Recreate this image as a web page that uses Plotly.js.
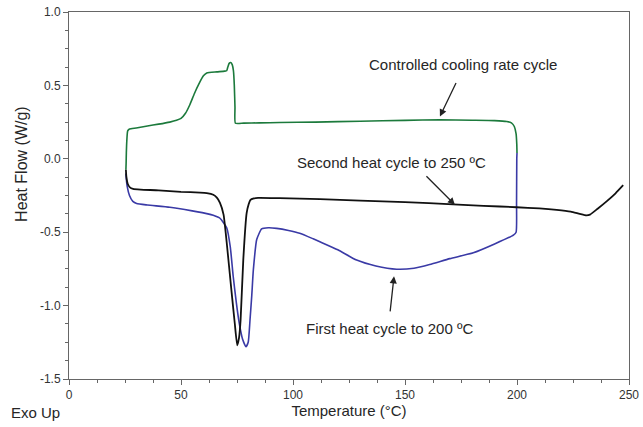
<!DOCTYPE html>
<html>
<head>
<meta charset="utf-8">
<script src="https://cdn.plot.ly/plotly-3.0.1.min.js"></script>
<style>html,body{margin:0;padding:0;background:#fff;}#chart{width:643px;height:427px;}</style>
</head>
<body>
<div id="chart"></div>
<script>
// First heat cycle to 200 °C (blue)
const firstHeatT = [25.4, 25.6, 26.0, 27.0, 28.5, 30.2, 35, 45, 55, 62, 64.4, 67.4, 70.4, 72, 73.3, 74.7, 76, 77.5, 79, 80, 80.8, 81.6, 82.3, 83.8, 86, 89, 92.7, 98, 103, 109, 112, 120, 128.4, 137, 146.3, 154, 161, 170, 180.5, 190, 198.4, 199.6, 199.8, 199.9, 200];
const firstHeatHF = [-0.10, -0.14, -0.19, -0.25, -0.29, -0.305, -0.315, -0.33, -0.355, -0.375, -0.385, -0.405, -0.47, -0.6, -0.80, -0.98, -1.12, -1.23, -1.28, -1.25, -1.10, -0.93, -0.757, -0.55, -0.478, -0.47, -0.474, -0.488, -0.507, -0.545, -0.565, -0.62, -0.69, -0.73, -0.752, -0.745, -0.72, -0.68, -0.64, -0.58, -0.52, -0.50, -0.3, 0.0, 0.04];

// Controlled cooling rate cycle (green), 200 -> 25 °C
const coolingT = [200, 199.9, 199.6, 198.8, 197.5, 195.4, 190, 180, 165.6, 150, 130, 110, 94, 85, 78, 74.3, 74.1, 73.8, 73.4, 72.9, 72.2, 71.5, 70.9, 70.4, 69.5, 66, 61.5, 60, 58, 56, 54, 52, 50, 48, 45, 40, 35, 30, 27, 26.2, 25.8, 25.6, 25.5, 25.4];
const coolingHF = [0.04, 0.10, 0.17, 0.22, 0.245, 0.254, 0.26, 0.263, 0.266, 0.262, 0.256, 0.25, 0.247, 0.245, 0.243, 0.242, 0.35, 0.5, 0.6, 0.64, 0.656, 0.65, 0.625, 0.60, 0.597, 0.592, 0.585, 0.565, 0.51, 0.445, 0.37, 0.31, 0.275, 0.262, 0.25, 0.236, 0.224, 0.21, 0.203, 0.19, 0.12, 0.04, -0.03, -0.075];

// Second heat cycle to 250 °C (black)
const secondHeatT = [25.4, 25.6, 26.2, 27.2, 28.6, 32, 40, 50, 58.5, 61.5, 64.4, 66, 67.4, 69, 70.4, 72.6, 74, 75.1, 75.9, 76.6, 77.8, 79.3, 80.2, 81, 82.5, 84.4, 94, 112, 130, 150, 171.5, 185, 199.8, 210, 217.7, 224, 228, 231, 232.6, 236, 240, 244, 247.4];
const secondHeatHF = [-0.075, -0.12, -0.17, -0.195, -0.205, -0.21, -0.215, -0.225, -0.23, -0.234, -0.245, -0.265, -0.30, -0.38, -0.57, -0.91, -1.12, -1.27, -1.22, -1.10, -0.69, -0.37, -0.31, -0.28, -0.27, -0.266, -0.268, -0.275, -0.285, -0.295, -0.31, -0.32, -0.33, -0.338, -0.348, -0.36, -0.375, -0.385, -0.38, -0.34, -0.29, -0.235, -0.18];

const xTickVals = [0, 50, 100, 150, 200, 250];
const xTickText = ['0', '50', '100', '150', '200', '250'];
const yTickVals = [-1.5, -1.0, -0.5, 0.0, 0.5, 1.0];
const yTickText = ['-1.5', '-1.0', '-0.5', '0.0', '0.5', '1.0'];

const FONT = 'Liberation Sans, Arial, sans-serif';
const TXT = '#262626';

const traces = [
  {x: firstHeatT, y: firstHeatHF, mode: 'lines', line: {color: '#3a3aa6', width: 1.6, shape: 'spline', smoothing: 0.5}, name: 'First heat', hoverinfo: 'x+y'},
  {x: coolingT, y: coolingHF, mode: 'lines', line: {color: '#1c7a3c', width: 1.6, shape: 'spline', smoothing: 0.5}, name: 'Cooling', hoverinfo: 'x+y'},
  {x: secondHeatT, y: secondHeatHF, mode: 'lines', line: {color: '#111111', width: 1.8, shape: 'spline', smoothing: 0.5}, name: 'Second heat', hoverinfo: 'x+y'}
];

function arrow(hx, hy, tx, ty) {
  return {x: hx, y: hy, ax: tx, ay: ty, xref: 'x', yref: 'y', axref: 'x', ayref: 'y',
    text: '', showarrow: true, arrowhead: 2, arrowsize: 1.1, arrowwidth: 1.3, arrowcolor: '#222'};
}
function label(x, y, t) {
  return {x: x, y: y, xref: 'x', yref: 'y', text: t, showarrow: false,
    font: {family: FONT, size: 15, color: TXT}, xanchor: 'center', yanchor: 'middle'};
}

const layout = {
  width: 643, height: 427,
  margin: {l: 69, r: 14, t: 12, b: 48},
  paper_bgcolor: '#fff', plot_bgcolor: '#fff',
  showlegend: false,
  font: {family: FONT, color: TXT},
  xaxis: {
    range: [0, 250], tickvals: xTickVals, ticktext: xTickText,
    ticks: 'outside', ticklen: 5, tickcolor: '#666',
    minor: {dtick: 12.5, tick0: 0, ticks: 'outside', ticklen: 3, tickcolor: '#666'},
    showline: true, mirror: true, linecolor: '#666', linewidth: 1,
    showgrid: false, zeroline: false,
    tickfont: {family: FONT, size: 12, color: '#333'},
    title: {text: 'Temperature (°C)', font: {family: FONT, size: 15, color: TXT}, standoff: 4}
  },
  yaxis: {
    range: [-1.5, 1.0], tickvals: yTickVals, ticktext: yTickText,
    ticks: 'outside', ticklen: 5, tickcolor: '#666',
    minor: {dtick: 0.125, tick0: 0, ticks: 'outside', ticklen: 3, tickcolor: '#666'},
    showline: true, mirror: true, linecolor: '#666', linewidth: 1,
    showgrid: false, zeroline: false,
    tickfont: {family: FONT, size: 12, color: '#333'}
  },
  annotations: [
    {x: -0.084, y: 0.586, xref: 'paper', yref: 'paper', text: 'Heat Flow (W/g)', textangle: -90,
      showarrow: false, font: {family: FONT, size: 16, color: TXT}, xanchor: 'center', yanchor: 'middle'},
    {x: -0.108, y: -0.092, xref: 'paper', yref: 'paper', text: 'Exo Up',
      showarrow: false, font: {family: FONT, size: 15, color: TXT}, xanchor: 'left', yanchor: 'middle'},
    label(175.7, 0.64, 'Controlled cooling rate cycle'),
    label(143.75, -0.025, 'Second heat cycle to 250 ºC'),
    label(143.3, -1.154, 'First heat cycle to 200 ºC'),
    arrow(165.6, 0.288, 173.1, 0.527),
    arrow(172.3, -0.314, 158.9, -0.109),
    arrow(145.1, -0.80, 143.3, -1.05)
  ]
};

Plotly.newPlot('chart', traces, layout, {displayModeBar: false, staticPlot: true});
</script>
</body>
</html>
